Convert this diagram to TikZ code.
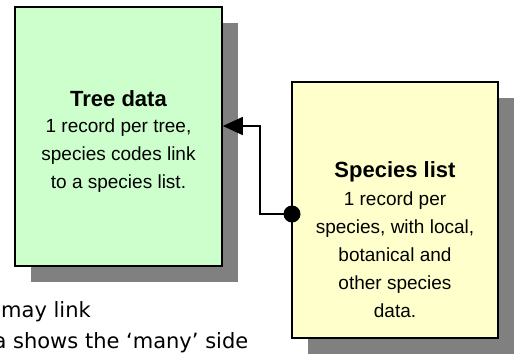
\documentclass[tikz,border=0pt]{standalone}
\usepackage{fontspec}
\setmainfont{Liberation Sans}
\newfontfamily\handfont{DejaVu Sans}
\usetikzlibrary{shadows,arrows.meta}
\definecolor{treegreen}{HTML}{CCFFCC}
\definecolor{specyellow}{HTML}{FFFFCC}
\definecolor{shadowgray}{HTML}{808080}
\begin{document}
\begin{tikzpicture}[x=1pt,y=-1pt,
  box/.style={draw=black, line width=1.6pt, inner sep=0,
    drop shadow={shadow xshift=16pt, shadow yshift=-16pt, fill=shadowgray, opacity=1}},
  title/.style={font=\fontsize{22}{28}\selectfont\bfseries, anchor=base, inner sep=0},
  body/.style={font=\fontsize{19}{28}\selectfont, anchor=base, inner sep=0},
  link/.style={line width=1.6pt},
  note/.style={font=\handfont\fontsize{21}{31}\selectfont, anchor=base west, inner sep=0}]
\useasboundingbox (0,0) rectangle (517,354);
\clip (0,0) rectangle (517,354);
\node[box, fill=treegreen, minimum width=207pt, minimum height=259pt] (tree) at (118.5,136.5) {};
\node[box, fill=specyellow, minimum width=206pt, minimum height=256pt] (species) at (395,210) {};
\node[title] (treetitle) at (118.5,106) {Tree data};
\node[body] (treebody) at (118.5,132) {\begin{tabular}[t]{@{}c@{}}1 record per tree,\\species codes link\\to a species list.\end{tabular}};
\node[title] (sptitle) at (395,177) {Species list};
\node[body] (spbody) at (395,205) {\begin{tabular}[t]{@{}c@{}}1 record per\\species, with local,\\botanical and\\other species\\data.\end{tabular}};
\node[circle, fill=black, inner sep=0, minimum size=17pt] (dot) at (292,214) {};
\coordinate (bend) at (260,126);
\draw[link, -{Triangle[length=20pt,width=18pt]}] (dot.center) -| (bend) -- (bend -| tree.east);
\node[note] (note1) at (1,317) {may link};
\node[note] (note2) at (-6.6,348) {a shows the ‘many’ side};
\end{tikzpicture}
\end{document}
